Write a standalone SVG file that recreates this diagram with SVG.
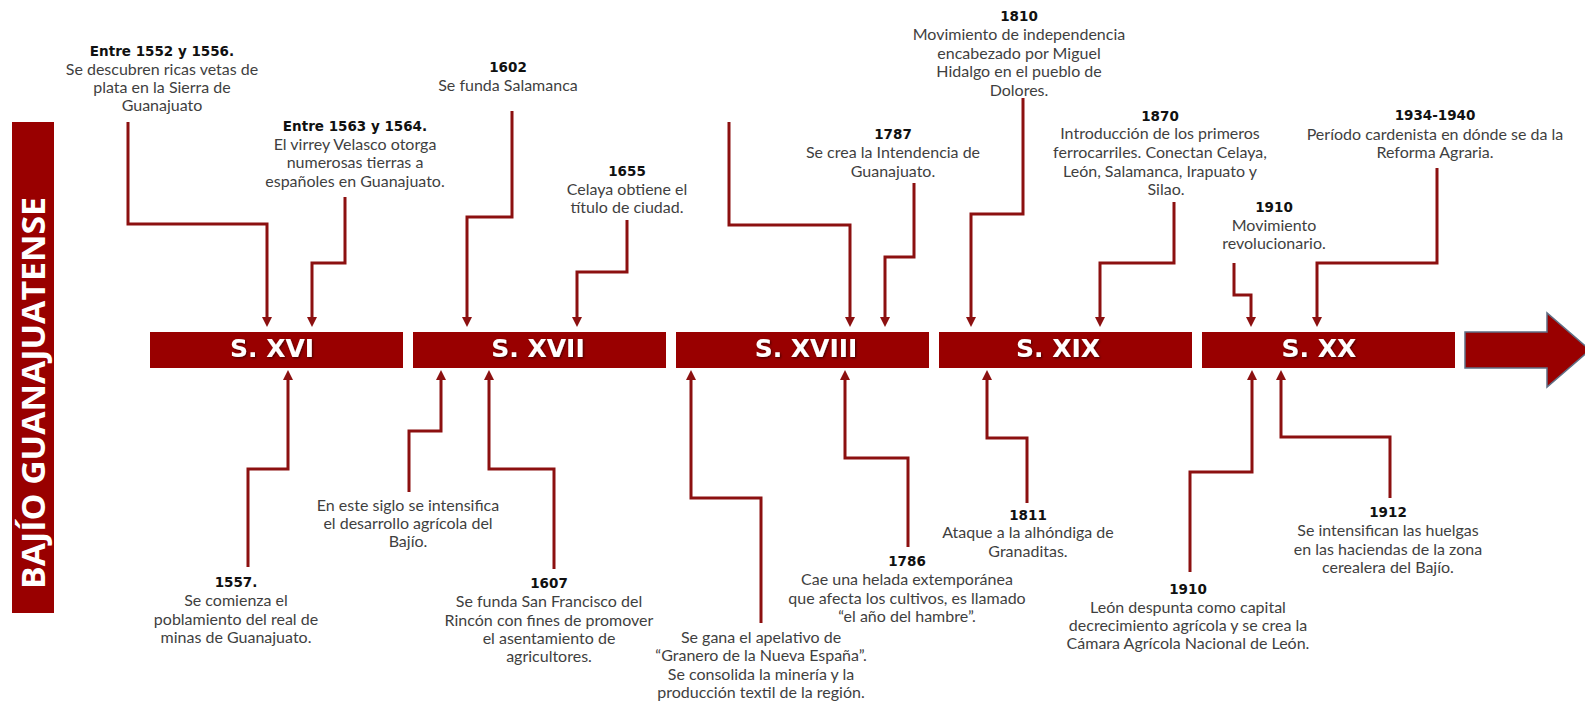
<svg xmlns="http://www.w3.org/2000/svg" width="1585" height="701" viewBox="0 0 1585 701">
<style>
.bx{fill:#990000}
.lbl{font-family:"DejaVu Sans",sans-serif;font-weight:bold;font-size:25px;fill:#ffffff;text-anchor:middle;filter:url(#sh)}
.yr{font-family:"DejaVu Sans",sans-serif;font-weight:bold;font-size:13.5px;fill:#111111}
.tx{font-family:Lato,"Liberation Sans",sans-serif;font-size:16px;fill:#3f3f3f;text-anchor:middle}
.c{fill:none;stroke:#8c1010;stroke-width:3;marker-end:url(#ah)}
</style>
<defs>
<marker id="ah" markerUnits="userSpaceOnUse" markerWidth="10" markerHeight="10" refX="0" refY="5" orient="auto">
<path d="M0,0 L10,5 L0,10 z" fill="#8c1010"/>
</marker>
<filter id="sh" x="-10%" y="-20%" width="130%" height="150%">
<feDropShadow dx="1" dy="1.2" stdDeviation="0.8" flood-color="#000000" flood-opacity="0.55"/>
</filter>
</defs>
<rect width="1585" height="701" fill="#ffffff"/>

<g id="title">
<rect x="12" y="122" width="42" height="491" class="bx"/>
<text transform="translate(45,393) rotate(-90)" text-anchor="middle" font-family="'Open Sans',sans-serif" font-weight="bold" font-size="33" fill="#ffffff" textLength="392" lengthAdjust="spacingAndGlyphs">BAJÍO GUANAJUATENSE</text>
</g>

<g id="s16"><rect x="150" y="332" width="253" height="36" class="bx"/><text x="272" y="357" class="lbl">S. XVI</text></g>
<g id="s17"><rect x="413" y="332" width="253" height="36" class="bx"/><text x="538" y="357" class="lbl">S. XVII</text></g>
<g id="s18"><rect x="676" y="332" width="253" height="36" class="bx"/><text x="806" y="357" class="lbl">S. XVIII</text></g>
<g id="s19"><rect x="939" y="332" width="253" height="36" class="bx"/><text x="1058" y="357" class="lbl">S. XIX</text></g>
<g id="s20"><rect x="1202" y="332" width="253" height="36" class="bx"/><text x="1319" y="357" class="lbl">S. XX</text></g>
<g id="arrow"><path d="M1465,332 H1547 V313 L1590,350 L1547,387 V368 H1465 Z" fill="#990000" stroke="#5f6f85" stroke-width="1.5"/></g>

<g id="connectors">
<path class="c" d="M128,122 V224 H267 V317"/>
<path class="c" d="M345,197 V263 H312 V317"/>
<path class="c" d="M512,111 V217 H467 V317"/>
<path class="c" d="M627,220 V272 H577 V317"/>
<path class="c" d="M729,122 V225 H850 V317"/>
<path class="c" d="M914,183 V257 H885 V317"/>
<path class="c" d="M1023,98 V214 H971 V317"/>
<path class="c" d="M1174,202 V263 H1100 V317"/>
<path class="c" d="M1234,263 V295 H1251 V317"/>
<path class="c" d="M1437,168 V263 H1317 V317"/>
<path class="c" d="M248,567 V469 H288 V380"/>
<path class="c" d="M409,492 V431 H441 V380"/>
<path class="c" d="M554,569 V469 H489 V380"/>
<path class="c" d="M761,623 V498 H691 V380"/>
<path class="c" d="M908,547 V458 H845 V380"/>
<path class="c" d="M1027,503 V438 H987 V380"/>
<path class="c" d="M1190,572 V472 H1252 V380"/>
<path class="c" d="M1390,498 V437 H1281 V380"/>
</g>

<g id="e1552">
<text x="162" y="56" class="yr" text-anchor="middle">Entre 1552 y 1556.</text>
<text x="162" y="75" class="tx">Se descubren ricas vetas de</text>
<text x="162" y="93" class="tx">plata en la Sierra de</text>
<text x="162" y="111" class="tx">Guanajuato</text>
</g>
<g id="e1563">
<text x="355" y="131" class="yr" text-anchor="middle">Entre 1563 y 1564.</text>
<text x="355" y="150" class="tx">El virrey Velasco otorga</text>
<text x="355" y="168" class="tx">numerosas tierras a</text>
<text x="355" y="187" class="tx">españoles en Guanajuato.</text>
</g>
<g id="e1602">
<text x="508" y="72" class="yr" text-anchor="middle">1602</text>
<text x="508" y="91" class="tx">Se funda Salamanca</text>
</g>
<g id="e1655">
<text x="627" y="176" class="yr" text-anchor="middle">1655</text>
<text x="627" y="195" class="tx">Celaya obtiene el</text>
<text x="627" y="213" class="tx">título de ciudad.</text>
</g>
<g id="e1787">
<text x="893" y="139" class="yr" text-anchor="middle">1787</text>
<text x="893" y="158" class="tx">Se crea la Intendencia de</text>
<text x="893" y="177" class="tx">Guanajuato.</text>
</g>
<g id="e1810">
<text x="1019" y="21" class="yr" text-anchor="middle">1810</text>
<text x="1019" y="40" class="tx">Movimiento de independencia</text>
<text x="1019" y="58.5" class="tx">encabezado por Miguel</text>
<text x="1019" y="77" class="tx">Hidalgo en el pueblo de</text>
<text x="1019" y="95.5" class="tx">Dolores.</text>
</g>
<g id="e1870">
<text x="1160" y="120.5" class="yr" text-anchor="middle">1870</text>
<text x="1160" y="139" class="tx">Introducción de los primeros</text>
<text x="1160" y="158" class="tx">ferrocarriles. Conectan Celaya,</text>
<text x="1160" y="176.5" class="tx">León, Salamanca, Irapuato y</text>
<text x="1166" y="195" class="tx">Silao.</text>
</g>
<g id="e1910r">
<text x="1274" y="212" class="yr" text-anchor="middle">1910</text>
<text x="1274" y="231" class="tx">Movimiento</text>
<text x="1274" y="249" class="tx">revolucionario.</text>
</g>
<g id="e1934">
<text x="1435" y="120" class="yr" text-anchor="middle">1934-1940</text>
<text x="1435" y="140" class="tx">Período cardenista en dónde se da la</text>
<text x="1435" y="158" class="tx">Reforma Agraria.</text>
</g>
<g id="e1557">
<text x="236" y="587" class="yr" text-anchor="middle">1557.</text>
<text x="236" y="606" class="tx">Se comienza el</text>
<text x="236" y="625" class="tx">poblamiento del real de</text>
<text x="236" y="643" class="tx">minas de Guanajuato.</text>
</g>
<g id="e1600s">
<text x="408" y="511" class="tx">En este siglo se intensifica</text>
<text x="408" y="529" class="tx">el desarrollo agrícola del</text>
<text x="408" y="547" class="tx">Bajío.</text>
</g>
<g id="e1607">
<text x="549" y="588" class="yr" text-anchor="middle">1607</text>
<text x="549" y="607" class="tx">Se funda San Francisco del</text>
<text x="549" y="626" class="tx">Rincón con fines de promover</text>
<text x="549" y="644" class="tx">el asentamiento de</text>
<text x="549" y="662" class="tx">agricultores.</text>
</g>
<g id="e1700s">
<text x="761" y="643" class="tx">Se gana el apelativo de</text>
<text x="761" y="661" class="tx">“Granero de la Nueva España”.</text>
<text x="761" y="679.5" class="tx">Se consolida la minería y la</text>
<text x="761" y="698" class="tx">producción textil de la región.</text>
</g>
<g id="e1786">
<text x="907" y="566" class="yr" text-anchor="middle">1786</text>
<text x="907" y="585" class="tx">Cae una helada extemporánea</text>
<text x="907" y="603.5" class="tx">que afecta los cultivos, es llamado</text>
<text x="907" y="622" class="tx">“el año del hambre”.</text>
</g>
<g id="e1811">
<text x="1028" y="520" class="yr" text-anchor="middle">1811</text>
<text x="1028" y="538" class="tx">Ataque a la alhóndiga de</text>
<text x="1028" y="557" class="tx">Granaditas.</text>
</g>
<g id="e1910l">
<text x="1188" y="594" class="yr" text-anchor="middle">1910</text>
<text x="1188" y="613" class="tx">León despunta como capital</text>
<text x="1188" y="631" class="tx">decrecimiento agrícola y se crea la</text>
<text x="1188" y="649" class="tx">Cámara Agrícola Nacional de León.</text>
</g>
<g id="e1912">
<text x="1388" y="517" class="yr" text-anchor="middle">1912</text>
<text x="1388" y="536" class="tx">Se intensifican las huelgas</text>
<text x="1388" y="555" class="tx">en las haciendas de la zona</text>
<text x="1388" y="573" class="tx">cerealera del Bajío.</text>
</g>
</svg>
